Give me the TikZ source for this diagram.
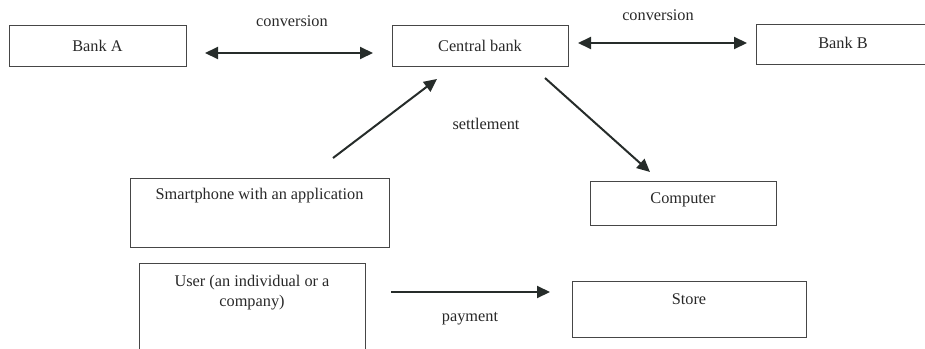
\documentclass[tikz,border=0pt]{standalone}
\usepackage{fontspec}
\setmainfont{Liberation Serif}
\usetikzlibrary{arrows.meta}
\definecolor{boxline}{RGB}{70,70,70}
\definecolor{arrowc}{RGB}{38,44,42}
\definecolor{txtc}{RGB}{40,40,40}
\tikzset{
  box/.style={draw=boxline, line width=1pt, rectangle, inner sep=0pt, anchor=north west},
  txt/.style={font=\fontsize{16.3}{19.5}\selectfont, text=txtc, inner sep=0pt, align=center},
  conn/.style={draw=arrowc, line width=2pt, -{Triangle[length=13pt,width=12pt]}},
  dconn/.style={draw=arrowc, line width=2pt, {Triangle[length=13pt,width=12pt]}-{Triangle[length=13pt,width=12pt]}},
}
\begin{document}
\begin{tikzpicture}[x=1pt,y=-1pt]
\useasboundingbox (0,0) rectangle (925,348);
% boxes
\node[box, minimum width=177pt, minimum height=41pt] (bankA) at (9,25) {};
\node[box, minimum width=176pt, minimum height=41pt] (central) at (392,25) {};
\node[box, minimum width=175pt, minimum height=40pt] (bankB) at (756,24) {};
\node[box, minimum width=259pt, minimum height=69pt] (phone) at (130,178) {};
\node[box, minimum width=186pt, minimum height=44pt] (computer) at (590,181) {};
\node[box, minimum width=226pt, minimum height=95pt] (user) at (139,263) {};
\node[box, minimum width=234pt, minimum height=56pt] (store) at (572,281) {};
% texts
\node[txt] (tA) at (97.5,45.5) {Bank A};
\node[txt] (tC) at (480,45.5) {Central bank};
\node[txt] (tB) at (843,43) {Bank B};
\node[txt] (tP) at (259.5,196) {Smartphone with an application};
\node[txt] (tCo) at (683,199.5) {Computer};
\node[txt] (tU) at (252,292.5) {User (an individual or a\\company)};
\node[txt] (tS) at (689,299.5) {Store};
% labels
\node[txt] (lconv1) at (292,21) {conversion};
\node[txt] (lconv2) at (658,15) {conversion};
\node[txt] (lsettle) at (486,124) {settlement};
\node[txt] (lpay) at (470,318.5) {payment};
% connector end points
\coordinate (a1) at (205,53);
\coordinate (a2) at (373,53);
\coordinate (b1) at (578,43);
\coordinate (b2) at (747,43);
\coordinate (s1) at (333,158);
\coordinate (s2) at (437,79);
\coordinate (c1) at (545,78);
\coordinate (c2) at (650,172);
\coordinate (p1) at (391,292);
\coordinate (p2) at (550,292);
% connectors
\draw[dconn] (a1) -- (a2);
\draw[dconn] (b1) -- (b2);
\draw[conn] (s1) -- (s2);
\draw[conn] (c1) -- (c2);
\draw[conn] (p1) -- (p2);
\end{tikzpicture}
\end{document}
